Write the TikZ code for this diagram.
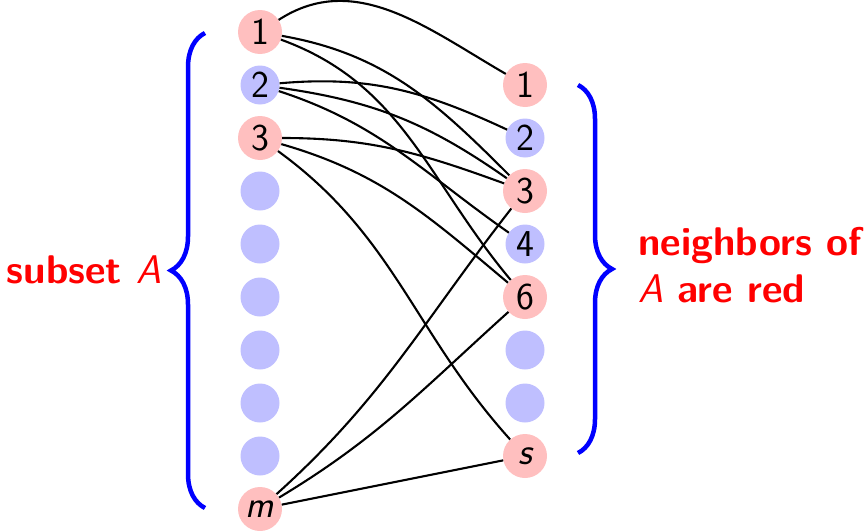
\documentclass[tikz,border=0pt]{standalone}
\usetikzlibrary{decorations.pathreplacing}
\begin{document}
\begin{tikzpicture}[x=1pt,y=-1pt,
  font=\sffamily\fontsize{38}{45}\selectfont,
  vred/.style={circle, fill=red!25, minimum size=44pt, inner sep=0pt},
  vblue/.style={circle, fill=blue!25, minimum size=39pt, inner sep=0pt},
  edge/.style={line width=2.1pt},
  brc/.style={blue, line width=4.5pt, decorate, decoration={brace, amplitude=34pt}},
  lbl/.style={red, inner sep=0pt, font=\sffamily\bfseries\fontsize{40}{48}\selectfont}]
\useasboundingbox (0,0) rectangle (867,530);

% left side: vertices 1 .. m
\node[vred]  (a1) at (260,32)  {1};
\node[vblue] (a2) at (260,85)  {2};
\node[vred]  (a3) at (260,138) {3};
\node[vblue] (a4) at (260,191) {};
\node[vblue] (a5) at (260,244) {};
\node[vblue] (a6) at (260,297) {};
\node[vblue] (a7) at (260,350) {};
\node[vblue] (a8) at (260,403) {};
\node[vblue] (a9) at (260,456) {};
\node[vred]  (am) at (260,509) {\itshape m};

% right side: vertices 1 .. s
\node[vred]  (b1) at (525,85)  {1};
\node[vblue] (b2) at (525,138) {2};
\node[vred]  (b3) at (525,191) {3};
\node[vblue] (b4) at (525,244) {4};
\node[vred]  (b6) at (525,297) {6};
\node[vblue] (b7) at (525,350) {};
\node[vblue] (b8) at (525,403) {};
\node[vred]  (bs) at (525,456) {\itshape s};

% edges
\draw[edge] (a1) to[out=33,in=150]  (b1);
\draw[edge] (a1) to[out=-10,in=135] (b3);
\draw[edge] (a1) to[out=-20,in=130] (b6);
\draw[edge] (a2) to[out=5,in=155]   (b2);
\draw[edge] (a2) to[out=-8,in=145]  (b3);
\draw[edge] (a2) to[out=-18,in=145] (b4);
\draw[edge] (a3) to[out=0,in=160]   (b3);
\draw[edge] (a3) to[out=-16,in=140] (b6);
\draw[edge] (a3) to[out=-36,in=132] (bs);
\draw[edge] (am) to[out=42,in=-128] (b3);
\draw[edge] (am) to[out=31,in=-138] (b6);
\draw[edge] (am) -- (bs);

% braces
\coordinate (lbB) at (205,508);
\coordinate (lbT) at (205,33);
\coordinate (rbT) at (578,85);
\coordinate (rbB) at (578,453);
\draw[brc] (lbB) -- (lbT);
\draw[brc] (rbT) -- (rbB);

% labels
\node[lbl, anchor=base east] (la) at (162,283) {subset {\mdseries\itshape A}};
\node[lbl, anchor=base west] (lb1) at (638,255) {neighbors of};
\node[lbl, anchor=base west] (lb2) at (638,302) {{\mdseries\itshape A} are red};
\end{tikzpicture}
\end{document}
